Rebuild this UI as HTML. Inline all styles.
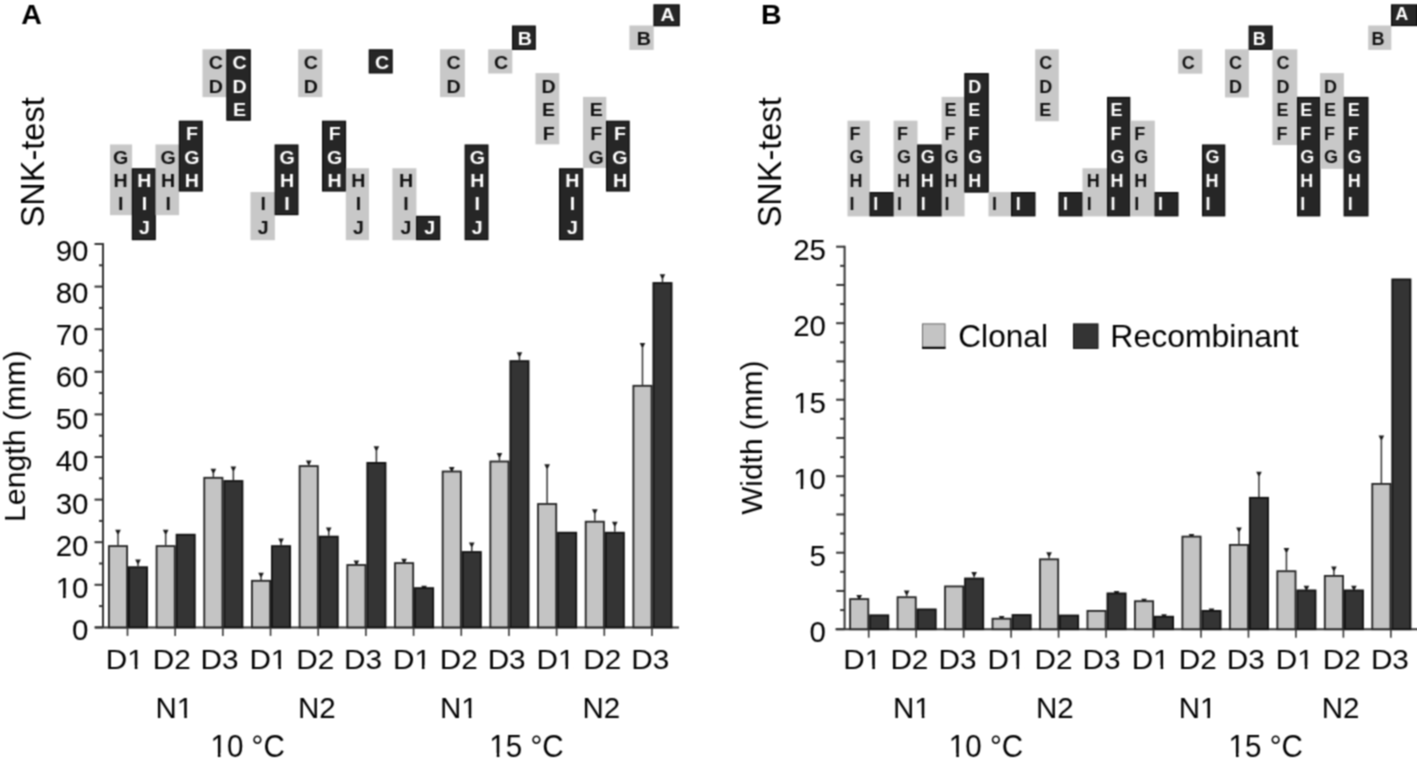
<!DOCTYPE html>
<html><head><meta charset="utf-8"><style>
html,body{margin:0;padding:0;background:#fff;}
body{width:1417px;height:775px;overflow:hidden;}
svg{display:block;font-family:"Liberation Sans", sans-serif;}
</style></head><body>
<svg width="1417" height="775" viewBox="0 0 1417 775">
<defs><filter id="soft" x="0" y="0" width="100%" height="100%" filterUnits="userSpaceOnUse" color-interpolation-filters="sRGB"><feConvolveMatrix order="3" kernelMatrix="0.05712 0.12476 0.05712 0.12476 0.27250 0.12476 0.05712 0.12476 0.05712" edgeMode="duplicate" preserveAlpha="true"/></filter></defs>
<g filter="url(#soft)">
<rect width="1417" height="775" fill="#fff"/>
<text x="21.2" y="23.5" font-size="28.5" font-weight="bold" fill="#000">A</text>
<text x="761" y="23.6" font-size="28.5" font-weight="bold" fill="#000">B</text>
<rect x="110.00" y="144.45" width="22.10" height="70.73" fill="#c8c8c8"/>
<text transform="translate(120.60,163.55) scale(1.09,1)" font-size="18" font-weight="bold" text-anchor="middle" fill="#111">G</text>
<text transform="translate(120.60,187.04) scale(1.09,1)" font-size="18" font-weight="bold" text-anchor="middle" fill="#111">H</text>
<text transform="translate(120.60,210.03) scale(1.09,1)" font-size="18" font-weight="bold" text-anchor="middle" fill="#111">I</text>
<rect x="132.40" y="168.84" width="22.80" height="70.76" fill="#262626" stroke="#080808" stroke-width="1.2"/>
<text transform="translate(144.38,187.04) scale(1.09,1)" font-size="18" font-weight="bold" text-anchor="middle" fill="#fff">H</text>
<text transform="translate(144.38,210.03) scale(1.09,1)" font-size="18" font-weight="bold" text-anchor="middle" fill="#fff">I</text>
<text transform="translate(144.38,234.42) scale(1.09,1)" font-size="18" font-weight="bold" text-anchor="middle" fill="#fff">J</text>
<rect x="155.50" y="144.45" width="23.60" height="70.73" fill="#c8c8c8"/>
<text transform="translate(168.16,163.55) scale(1.09,1)" font-size="18" font-weight="bold" text-anchor="middle" fill="#111">G</text>
<text transform="translate(168.16,187.04) scale(1.09,1)" font-size="18" font-weight="bold" text-anchor="middle" fill="#111">H</text>
<text transform="translate(168.16,210.03) scale(1.09,1)" font-size="18" font-weight="bold" text-anchor="middle" fill="#111">I</text>
<rect x="179.40" y="121.26" width="22.80" height="69.71" fill="#262626" stroke="#080808" stroke-width="1.2"/>
<text transform="translate(191.94,139.76) scale(1.09,1)" font-size="18" font-weight="bold" text-anchor="middle" fill="#fff">F</text>
<text transform="translate(191.94,163.55) scale(1.09,1)" font-size="18" font-weight="bold" text-anchor="middle" fill="#fff">G</text>
<text transform="translate(191.94,187.04) scale(1.09,1)" font-size="18" font-weight="bold" text-anchor="middle" fill="#fff">H</text>
<rect x="202.50" y="49.29" width="24.10" height="47.84" fill="#c8c8c8"/>
<text transform="translate(215.72,68.89) scale(1.09,1)" font-size="18" font-weight="bold" text-anchor="middle" fill="#111">C</text>
<text transform="translate(215.72,93.08) scale(1.09,1)" font-size="18" font-weight="bold" text-anchor="middle" fill="#111">D</text>
<rect x="226.90" y="49.89" width="23.30" height="70.25" fill="#262626" stroke="#080808" stroke-width="1.2"/>
<text transform="translate(239.50,68.89) scale(1.09,1)" font-size="18" font-weight="bold" text-anchor="middle" fill="#fff">C</text>
<text transform="translate(239.50,93.08) scale(1.09,1)" font-size="18" font-weight="bold" text-anchor="middle" fill="#fff">D</text>
<text transform="translate(239.50,116.37) scale(1.09,1)" font-size="18" font-weight="bold" text-anchor="middle" fill="#fff">E</text>
<rect x="250.50" y="192.03" width="24.40" height="48.17" fill="#c8c8c8"/>
<text transform="translate(263.28,210.03) scale(1.09,1)" font-size="18" font-weight="bold" text-anchor="middle" fill="#111">I</text>
<text transform="translate(263.28,234.42) scale(1.09,1)" font-size="18" font-weight="bold" text-anchor="middle" fill="#111">J</text>
<rect x="275.20" y="145.05" width="22.70" height="69.53" fill="#262626" stroke="#080808" stroke-width="1.2"/>
<text transform="translate(287.06,163.55) scale(1.09,1)" font-size="18" font-weight="bold" text-anchor="middle" fill="#fff">G</text>
<text transform="translate(287.06,187.04) scale(1.09,1)" font-size="18" font-weight="bold" text-anchor="middle" fill="#fff">H</text>
<text transform="translate(287.06,210.03) scale(1.09,1)" font-size="18" font-weight="bold" text-anchor="middle" fill="#fff">I</text>
<rect x="298.20" y="49.29" width="24.10" height="47.84" fill="#c8c8c8"/>
<text transform="translate(310.84,68.89) scale(1.09,1)" font-size="18" font-weight="bold" text-anchor="middle" fill="#111">C</text>
<text transform="translate(310.84,93.08) scale(1.09,1)" font-size="18" font-weight="bold" text-anchor="middle" fill="#111">D</text>
<rect x="322.60" y="121.26" width="22.90" height="69.71" fill="#262626" stroke="#080808" stroke-width="1.2"/>
<text transform="translate(334.62,139.76) scale(1.09,1)" font-size="18" font-weight="bold" text-anchor="middle" fill="#fff">F</text>
<text transform="translate(334.62,163.55) scale(1.09,1)" font-size="18" font-weight="bold" text-anchor="middle" fill="#fff">G</text>
<text transform="translate(334.62,187.04) scale(1.09,1)" font-size="18" font-weight="bold" text-anchor="middle" fill="#fff">H</text>
<rect x="345.80" y="168.24" width="23.20" height="71.96" fill="#c8c8c8"/>
<text transform="translate(358.40,187.04) scale(1.09,1)" font-size="18" font-weight="bold" text-anchor="middle" fill="#111">H</text>
<text transform="translate(358.40,210.03) scale(1.09,1)" font-size="18" font-weight="bold" text-anchor="middle" fill="#111">I</text>
<text transform="translate(358.40,234.42) scale(1.09,1)" font-size="18" font-weight="bold" text-anchor="middle" fill="#111">J</text>
<rect x="369.30" y="49.89" width="22.80" height="23.03" fill="#262626" stroke="#080808" stroke-width="1.2"/>
<text transform="translate(382.18,68.89) scale(1.09,1)" font-size="18" font-weight="bold" text-anchor="middle" fill="#fff">C</text>
<rect x="392.40" y="168.24" width="24.00" height="71.96" fill="#c8c8c8"/>
<text transform="translate(405.96,187.04) scale(1.09,1)" font-size="18" font-weight="bold" text-anchor="middle" fill="#111">H</text>
<text transform="translate(405.96,210.03) scale(1.09,1)" font-size="18" font-weight="bold" text-anchor="middle" fill="#111">I</text>
<text transform="translate(405.96,234.42) scale(1.09,1)" font-size="18" font-weight="bold" text-anchor="middle" fill="#111">J</text>
<rect x="416.70" y="216.42" width="23.00" height="23.18" fill="#262626" stroke="#080808" stroke-width="1.2"/>
<text transform="translate(429.74,234.42) scale(1.09,1)" font-size="18" font-weight="bold" text-anchor="middle" fill="#fff">J</text>
<rect x="440.00" y="49.29" width="24.90" height="47.84" fill="#c8c8c8"/>
<text transform="translate(453.52,68.89) scale(1.09,1)" font-size="18" font-weight="bold" text-anchor="middle" fill="#111">C</text>
<text transform="translate(453.52,93.08) scale(1.09,1)" font-size="18" font-weight="bold" text-anchor="middle" fill="#111">D</text>
<rect x="465.20" y="145.05" width="22.70" height="94.55" fill="#262626" stroke="#080808" stroke-width="1.2"/>
<text transform="translate(477.30,163.55) scale(1.09,1)" font-size="18" font-weight="bold" text-anchor="middle" fill="#fff">G</text>
<text transform="translate(477.30,187.04) scale(1.09,1)" font-size="18" font-weight="bold" text-anchor="middle" fill="#fff">H</text>
<text transform="translate(477.30,210.03) scale(1.09,1)" font-size="18" font-weight="bold" text-anchor="middle" fill="#fff">I</text>
<text transform="translate(477.30,234.42) scale(1.09,1)" font-size="18" font-weight="bold" text-anchor="middle" fill="#fff">J</text>
<rect x="488.20" y="49.29" width="24.10" height="24.23" fill="#c8c8c8"/>
<text transform="translate(501.08,68.89) scale(1.09,1)" font-size="18" font-weight="bold" text-anchor="middle" fill="#111">C</text>
<rect x="512.60" y="26.10" width="22.60" height="23.21" fill="#262626" stroke="#080808" stroke-width="1.2"/>
<text transform="translate(524.86,44.79) scale(1.09,1)" font-size="18" font-weight="bold" text-anchor="middle" fill="#fff">B</text>
<rect x="535.50" y="73.08" width="23.80" height="71.27" fill="#c8c8c8"/>
<text transform="translate(548.64,93.08) scale(1.09,1)" font-size="18" font-weight="bold" text-anchor="middle" fill="#111">D</text>
<text transform="translate(548.64,116.37) scale(1.09,1)" font-size="18" font-weight="bold" text-anchor="middle" fill="#111">E</text>
<text transform="translate(548.64,139.76) scale(1.09,1)" font-size="18" font-weight="bold" text-anchor="middle" fill="#111">F</text>
<rect x="559.60" y="168.84" width="23.10" height="70.76" fill="#262626" stroke="#080808" stroke-width="1.2"/>
<text transform="translate(572.42,187.04) scale(1.09,1)" font-size="18" font-weight="bold" text-anchor="middle" fill="#fff">H</text>
<text transform="translate(572.42,210.03) scale(1.09,1)" font-size="18" font-weight="bold" text-anchor="middle" fill="#fff">I</text>
<text transform="translate(572.42,234.42) scale(1.09,1)" font-size="18" font-weight="bold" text-anchor="middle" fill="#fff">J</text>
<rect x="583.00" y="96.87" width="23.30" height="71.09" fill="#c8c8c8"/>
<text transform="translate(596.20,116.37) scale(1.09,1)" font-size="18" font-weight="bold" text-anchor="middle" fill="#111">E</text>
<text transform="translate(596.20,139.76) scale(1.09,1)" font-size="18" font-weight="bold" text-anchor="middle" fill="#111">F</text>
<text transform="translate(596.20,163.55) scale(1.09,1)" font-size="18" font-weight="bold" text-anchor="middle" fill="#111">G</text>
<rect x="606.60" y="121.26" width="22.50" height="69.71" fill="#262626" stroke="#080808" stroke-width="1.2"/>
<text transform="translate(619.98,139.76) scale(1.09,1)" font-size="18" font-weight="bold" text-anchor="middle" fill="#fff">F</text>
<text transform="translate(619.98,163.55) scale(1.09,1)" font-size="18" font-weight="bold" text-anchor="middle" fill="#fff">G</text>
<text transform="translate(619.98,187.04) scale(1.09,1)" font-size="18" font-weight="bold" text-anchor="middle" fill="#fff">H</text>
<rect x="629.40" y="25.50" width="24.30" height="24.41" fill="#c8c8c8"/>
<text transform="translate(643.76,44.79) scale(1.09,1)" font-size="18" font-weight="bold" text-anchor="middle" fill="#111">B</text>
<rect x="654.00" y="4.90" width="25.20" height="20.80" fill="#262626" stroke="#080808" stroke-width="1.2"/>
<text transform="translate(667.54,20.51) scale(1.09,1)" font-size="18" font-weight="bold" text-anchor="middle" fill="#fff">A</text>
<rect x="847.50" y="120.66" width="22.30" height="95.76" fill="#c8c8c8"/>
<text transform="translate(849.60,139.56) scale(1.03,1)" font-size="17.5" font-weight="bold" fill="#111">F</text>
<text transform="translate(849.60,163.35) scale(1.03,1)" font-size="17.5" font-weight="bold" fill="#111">G</text>
<text transform="translate(849.60,186.84) scale(1.03,1)" font-size="17.5" font-weight="bold" fill="#111">H</text>
<text transform="translate(849.60,209.82) scale(1.03,1)" font-size="17.5" font-weight="bold" fill="#111">I</text>
<rect x="870.10" y="192.63" width="23.20" height="23.19" fill="#262626" stroke="#080808" stroke-width="1.2"/>
<text transform="translate(873.32,209.82) scale(1.03,1)" font-size="17.5" font-weight="bold" fill="#fff">I</text>
<rect x="893.60" y="120.66" width="23.90" height="95.76" fill="#c8c8c8"/>
<text transform="translate(897.04,139.56) scale(1.03,1)" font-size="17.5" font-weight="bold" fill="#111">F</text>
<text transform="translate(897.04,163.35) scale(1.03,1)" font-size="17.5" font-weight="bold" fill="#111">G</text>
<text transform="translate(897.04,186.84) scale(1.03,1)" font-size="17.5" font-weight="bold" fill="#111">H</text>
<text transform="translate(897.04,209.82) scale(1.03,1)" font-size="17.5" font-weight="bold" fill="#111">I</text>
<rect x="917.80" y="145.05" width="23.50" height="70.77" fill="#262626" stroke="#080808" stroke-width="1.2"/>
<text transform="translate(920.76,163.35) scale(1.03,1)" font-size="17.5" font-weight="bold" fill="#fff">G</text>
<text transform="translate(920.76,186.84) scale(1.03,1)" font-size="17.5" font-weight="bold" fill="#fff">H</text>
<text transform="translate(920.76,209.82) scale(1.03,1)" font-size="17.5" font-weight="bold" fill="#fff">I</text>
<rect x="941.60" y="96.87" width="23.00" height="119.55" fill="#c8c8c8"/>
<text transform="translate(944.48,116.17) scale(1.03,1)" font-size="17.5" font-weight="bold" fill="#111">E</text>
<text transform="translate(944.48,139.56) scale(1.03,1)" font-size="17.5" font-weight="bold" fill="#111">F</text>
<text transform="translate(944.48,163.35) scale(1.03,1)" font-size="17.5" font-weight="bold" fill="#111">G</text>
<text transform="translate(944.48,186.84) scale(1.03,1)" font-size="17.5" font-weight="bold" fill="#111">H</text>
<text transform="translate(944.48,209.82) scale(1.03,1)" font-size="17.5" font-weight="bold" fill="#111">I</text>
<rect x="964.90" y="73.68" width="23.30" height="118.35" fill="#262626" stroke="#080808" stroke-width="1.2"/>
<text transform="translate(968.20,92.88) scale(1.03,1)" font-size="17.5" font-weight="bold" fill="#fff">D</text>
<text transform="translate(968.20,116.17) scale(1.03,1)" font-size="17.5" font-weight="bold" fill="#fff">E</text>
<text transform="translate(968.20,139.56) scale(1.03,1)" font-size="17.5" font-weight="bold" fill="#fff">F</text>
<text transform="translate(968.20,163.35) scale(1.03,1)" font-size="17.5" font-weight="bold" fill="#fff">G</text>
<text transform="translate(968.20,186.84) scale(1.03,1)" font-size="17.5" font-weight="bold" fill="#fff">H</text>
<rect x="988.50" y="192.03" width="22.80" height="24.39" fill="#c8c8c8"/>
<text transform="translate(991.92,209.82) scale(1.03,1)" font-size="17.5" font-weight="bold" fill="#111">I</text>
<rect x="1011.60" y="192.63" width="23.30" height="23.19" fill="#262626" stroke="#080808" stroke-width="1.2"/>
<text transform="translate(1015.64,209.82) scale(1.03,1)" font-size="17.5" font-weight="bold" fill="#fff">I</text>
<rect x="1035.20" y="49.29" width="23.60" height="71.97" fill="#c8c8c8"/>
<text transform="translate(1039.36,68.69) scale(1.03,1)" font-size="17.5" font-weight="bold" fill="#111">C</text>
<text transform="translate(1039.36,92.88) scale(1.03,1)" font-size="17.5" font-weight="bold" fill="#111">D</text>
<text transform="translate(1039.36,116.17) scale(1.03,1)" font-size="17.5" font-weight="bold" fill="#111">E</text>
<rect x="1059.10" y="192.63" width="23.10" height="23.19" fill="#262626" stroke="#080808" stroke-width="1.2"/>
<text transform="translate(1063.08,209.82) scale(1.03,1)" font-size="17.5" font-weight="bold" fill="#fff">I</text>
<rect x="1082.50" y="168.24" width="24.80" height="48.18" fill="#c8c8c8"/>
<text transform="translate(1086.80,186.84) scale(1.03,1)" font-size="17.5" font-weight="bold" fill="#111">H</text>
<text transform="translate(1086.80,209.82) scale(1.03,1)" font-size="17.5" font-weight="bold" fill="#111">I</text>
<rect x="1107.60" y="97.47" width="22.10" height="118.35" fill="#262626" stroke="#080808" stroke-width="1.2"/>
<text transform="translate(1110.52,116.17) scale(1.03,1)" font-size="17.5" font-weight="bold" fill="#fff">E</text>
<text transform="translate(1110.52,139.56) scale(1.03,1)" font-size="17.5" font-weight="bold" fill="#fff">F</text>
<text transform="translate(1110.52,163.35) scale(1.03,1)" font-size="17.5" font-weight="bold" fill="#fff">G</text>
<text transform="translate(1110.52,186.84) scale(1.03,1)" font-size="17.5" font-weight="bold" fill="#fff">H</text>
<text transform="translate(1110.52,209.82) scale(1.03,1)" font-size="17.5" font-weight="bold" fill="#fff">I</text>
<rect x="1130.00" y="120.66" width="24.80" height="95.76" fill="#c8c8c8"/>
<text transform="translate(1134.24,139.56) scale(1.03,1)" font-size="17.5" font-weight="bold" fill="#111">F</text>
<text transform="translate(1134.24,163.35) scale(1.03,1)" font-size="17.5" font-weight="bold" fill="#111">G</text>
<text transform="translate(1134.24,186.84) scale(1.03,1)" font-size="17.5" font-weight="bold" fill="#111">H</text>
<text transform="translate(1134.24,209.82) scale(1.03,1)" font-size="17.5" font-weight="bold" fill="#111">I</text>
<rect x="1155.10" y="192.63" width="22.80" height="23.19" fill="#262626" stroke="#080808" stroke-width="1.2"/>
<text transform="translate(1157.96,209.82) scale(1.03,1)" font-size="17.5" font-weight="bold" fill="#fff">I</text>
<rect x="1178.20" y="49.29" width="24.10" height="24.39" fill="#c8c8c8"/>
<text transform="translate(1181.68,68.69) scale(1.03,1)" font-size="17.5" font-weight="bold" fill="#111">C</text>
<rect x="1202.60" y="145.05" width="22.10" height="70.77" fill="#262626" stroke="#080808" stroke-width="1.2"/>
<text transform="translate(1205.40,163.35) scale(1.03,1)" font-size="17.5" font-weight="bold" fill="#fff">G</text>
<text transform="translate(1205.40,186.84) scale(1.03,1)" font-size="17.5" font-weight="bold" fill="#fff">H</text>
<text transform="translate(1205.40,209.82) scale(1.03,1)" font-size="17.5" font-weight="bold" fill="#fff">I</text>
<rect x="1225.00" y="49.29" width="23.90" height="48.18" fill="#c8c8c8"/>
<text transform="translate(1229.12,68.69) scale(1.03,1)" font-size="17.5" font-weight="bold" fill="#111">C</text>
<text transform="translate(1229.12,92.88) scale(1.03,1)" font-size="17.5" font-weight="bold" fill="#111">D</text>
<rect x="1249.20" y="26.10" width="22.90" height="23.19" fill="#262626" stroke="#080808" stroke-width="1.2"/>
<text transform="translate(1252.84,44.59) scale(1.03,1)" font-size="17.5" font-weight="bold" fill="#fff">B</text>
<rect x="1272.40" y="49.29" width="24.90" height="95.76" fill="#c8c8c8"/>
<text transform="translate(1276.56,68.69) scale(1.03,1)" font-size="17.5" font-weight="bold" fill="#111">C</text>
<text transform="translate(1276.56,92.88) scale(1.03,1)" font-size="17.5" font-weight="bold" fill="#111">D</text>
<text transform="translate(1276.56,116.17) scale(1.03,1)" font-size="17.5" font-weight="bold" fill="#111">E</text>
<text transform="translate(1276.56,139.56) scale(1.03,1)" font-size="17.5" font-weight="bold" fill="#111">F</text>
<rect x="1297.60" y="97.47" width="22.10" height="118.35" fill="#262626" stroke="#080808" stroke-width="1.2"/>
<text transform="translate(1300.28,116.17) scale(1.03,1)" font-size="17.5" font-weight="bold" fill="#fff">E</text>
<text transform="translate(1300.28,139.56) scale(1.03,1)" font-size="17.5" font-weight="bold" fill="#fff">F</text>
<text transform="translate(1300.28,163.35) scale(1.03,1)" font-size="17.5" font-weight="bold" fill="#fff">G</text>
<text transform="translate(1300.28,186.84) scale(1.03,1)" font-size="17.5" font-weight="bold" fill="#fff">H</text>
<text transform="translate(1300.28,209.82) scale(1.03,1)" font-size="17.5" font-weight="bold" fill="#fff">I</text>
<rect x="1320.00" y="73.08" width="23.90" height="95.76" fill="#c8c8c8"/>
<text transform="translate(1324.00,92.88) scale(1.03,1)" font-size="17.5" font-weight="bold" fill="#111">D</text>
<text transform="translate(1324.00,116.17) scale(1.03,1)" font-size="17.5" font-weight="bold" fill="#111">E</text>
<text transform="translate(1324.00,139.56) scale(1.03,1)" font-size="17.5" font-weight="bold" fill="#111">F</text>
<text transform="translate(1324.00,163.35) scale(1.03,1)" font-size="17.5" font-weight="bold" fill="#111">G</text>
<rect x="1344.20" y="97.47" width="23.70" height="118.35" fill="#262626" stroke="#080808" stroke-width="1.2"/>
<text transform="translate(1347.72,116.17) scale(1.03,1)" font-size="17.5" font-weight="bold" fill="#fff">E</text>
<text transform="translate(1347.72,139.56) scale(1.03,1)" font-size="17.5" font-weight="bold" fill="#fff">F</text>
<text transform="translate(1347.72,163.35) scale(1.03,1)" font-size="17.5" font-weight="bold" fill="#fff">G</text>
<text transform="translate(1347.72,186.84) scale(1.03,1)" font-size="17.5" font-weight="bold" fill="#fff">H</text>
<text transform="translate(1347.72,209.82) scale(1.03,1)" font-size="17.5" font-weight="bold" fill="#fff">I</text>
<rect x="1368.20" y="25.50" width="23.10" height="24.39" fill="#c8c8c8"/>
<text transform="translate(1371.44,44.59) scale(1.03,1)" font-size="17.5" font-weight="bold" fill="#111">B</text>
<rect x="1391.60" y="4.90" width="25.10" height="20.60" fill="#262626" stroke="#080808" stroke-width="1.2"/>
<text transform="translate(1395.16,20.30) scale(1.03,1)" font-size="17.5" font-weight="bold" fill="#fff">A</text>
<text transform="translate(43.8,162.3) rotate(-90) scale(1.0,1)" x="0" y="0" font-size="32.5" text-anchor="middle" fill="#000">SNK-test</text>
<text transform="translate(781.0,162.3) rotate(-90) scale(1.0,1)" x="0" y="0" font-size="32.5" text-anchor="middle" fill="#000">SNK-test</text>
<text transform="translate(24.9,436.2) rotate(-90) scale(1.045,1)" x="0" y="0" font-size="29" text-anchor="middle" fill="#000">Length (mm)</text>
<text transform="translate(762.4,437.7) rotate(-90) scale(1.03,1)" x="0" y="0" font-size="29" text-anchor="middle" fill="#000">Width (mm)</text>
<line x1="103" y1="243.00" x2="103" y2="627.40" stroke="#333333" stroke-width="2"/>
<line x1="94.5" y1="627.40" x2="103" y2="627.40" stroke="#333333" stroke-width="2"/>
<g transform="translate(88.50,640.07) scale(1.0,1)"><text x="-16.41" y="0" font-size="29.5" fill="#000">0</text></g>
<line x1="94.5" y1="584.80" x2="103" y2="584.80" stroke="#333333" stroke-width="2"/>
<g transform="translate(88.50,597.92) scale(1.0,1)"><text x="-32.81" y="0" font-size="29.5" fill="#000">10</text><rect x="-31.37" y="-3.50" width="5.97" height="4.70" fill="#fff"/><rect x="-22.79" y="-3.50" width="5.74" height="4.70" fill="#fff"/></g>
<line x1="94.5" y1="542.20" x2="103" y2="542.20" stroke="#333333" stroke-width="2"/>
<g transform="translate(88.50,555.77) scale(1.0,1)"><text x="-32.81" y="0" font-size="29.5" fill="#000">20</text></g>
<line x1="94.5" y1="499.60" x2="103" y2="499.60" stroke="#333333" stroke-width="2"/>
<g transform="translate(88.50,513.62) scale(1.0,1)"><text x="-32.81" y="0" font-size="29.5" fill="#000">30</text></g>
<line x1="94.5" y1="457.00" x2="103" y2="457.00" stroke="#333333" stroke-width="2"/>
<g transform="translate(88.50,471.47) scale(1.0,1)"><text x="-32.81" y="0" font-size="29.5" fill="#000">40</text></g>
<line x1="94.5" y1="414.40" x2="103" y2="414.40" stroke="#333333" stroke-width="2"/>
<g transform="translate(88.50,429.32) scale(1.0,1)"><text x="-32.81" y="0" font-size="29.5" fill="#000">50</text></g>
<line x1="94.5" y1="371.80" x2="103" y2="371.80" stroke="#333333" stroke-width="2"/>
<g transform="translate(88.50,387.17) scale(1.0,1)"><text x="-32.81" y="0" font-size="29.5" fill="#000">60</text></g>
<line x1="94.5" y1="329.20" x2="103" y2="329.20" stroke="#333333" stroke-width="2"/>
<g transform="translate(88.50,345.02) scale(1.0,1)"><text x="-32.81" y="0" font-size="29.5" fill="#000">70</text></g>
<line x1="94.5" y1="286.60" x2="103" y2="286.60" stroke="#333333" stroke-width="2"/>
<g transform="translate(88.50,302.87) scale(1.0,1)"><text x="-32.81" y="0" font-size="29.5" fill="#000">80</text></g>
<line x1="94.5" y1="244.00" x2="103" y2="244.00" stroke="#333333" stroke-width="2"/>
<g transform="translate(88.50,260.72) scale(1.0,1)"><text x="-32.81" y="0" font-size="29.5" fill="#000">90</text></g>
<line x1="99" y1="606.10" x2="103" y2="606.10" stroke="#333333" stroke-width="2"/>
<line x1="99" y1="563.50" x2="103" y2="563.50" stroke="#333333" stroke-width="2"/>
<line x1="99" y1="520.90" x2="103" y2="520.90" stroke="#333333" stroke-width="2"/>
<line x1="99" y1="478.30" x2="103" y2="478.30" stroke="#333333" stroke-width="2"/>
<line x1="99" y1="435.70" x2="103" y2="435.70" stroke="#333333" stroke-width="2"/>
<line x1="99" y1="393.10" x2="103" y2="393.10" stroke="#333333" stroke-width="2"/>
<line x1="99" y1="350.50" x2="103" y2="350.50" stroke="#333333" stroke-width="2"/>
<line x1="99" y1="307.90" x2="103" y2="307.90" stroke="#333333" stroke-width="2"/>
<line x1="99" y1="265.30" x2="103" y2="265.30" stroke="#333333" stroke-width="2"/>
<line x1="95" y1="627.40" x2="679" y2="627.40" stroke="#333333" stroke-width="2"/>
<line x1="844.6" y1="245.70" x2="844.6" y2="629.20" stroke="#333333" stroke-width="2"/>
<line x1="836.1" y1="629.20" x2="844.6" y2="629.20" stroke="#333333" stroke-width="2"/>
<g transform="translate(826.00,642.32) scale(1.0,1)"><text x="-16.41" y="0" font-size="29.5" fill="#000">0</text></g>
<line x1="836.1" y1="552.70" x2="844.6" y2="552.70" stroke="#333333" stroke-width="2"/>
<g transform="translate(826.00,565.82) scale(1.0,1)"><text x="-16.41" y="0" font-size="29.5" fill="#000">5</text></g>
<line x1="836.1" y1="476.20" x2="844.6" y2="476.20" stroke="#333333" stroke-width="2"/>
<g transform="translate(826.00,489.32) scale(1.0,1)"><text x="-32.81" y="0" font-size="29.5" fill="#000">10</text><rect x="-31.37" y="-3.50" width="5.97" height="4.70" fill="#fff"/><rect x="-22.79" y="-3.50" width="5.74" height="4.70" fill="#fff"/></g>
<line x1="836.1" y1="399.70" x2="844.6" y2="399.70" stroke="#333333" stroke-width="2"/>
<g transform="translate(826.00,412.82) scale(1.0,1)"><text x="-32.81" y="0" font-size="29.5" fill="#000">15</text><rect x="-31.37" y="-3.50" width="5.97" height="4.70" fill="#fff"/><rect x="-22.79" y="-3.50" width="5.74" height="4.70" fill="#fff"/></g>
<line x1="836.1" y1="323.20" x2="844.6" y2="323.20" stroke="#333333" stroke-width="2"/>
<g transform="translate(826.00,336.32) scale(1.0,1)"><text x="-32.81" y="0" font-size="29.5" fill="#000">20</text></g>
<line x1="836.1" y1="246.70" x2="844.6" y2="246.70" stroke="#333333" stroke-width="2"/>
<g transform="translate(826.00,259.82) scale(1.0,1)"><text x="-32.81" y="0" font-size="29.5" fill="#000">25</text></g>
<line x1="836.3000000000001" y1="590.95" x2="844.6" y2="590.95" stroke="#333333" stroke-width="2"/>
<line x1="836.3000000000001" y1="514.45" x2="844.6" y2="514.45" stroke="#333333" stroke-width="2"/>
<line x1="836.3000000000001" y1="437.95" x2="844.6" y2="437.95" stroke="#333333" stroke-width="2"/>
<line x1="836.3000000000001" y1="361.45" x2="844.6" y2="361.45" stroke="#333333" stroke-width="2"/>
<line x1="836.3000000000001" y1="284.95" x2="844.6" y2="284.95" stroke="#333333" stroke-width="2"/>
<line x1="840.1" y1="610.08" x2="844.6" y2="610.08" stroke="#333333" stroke-width="2"/>
<line x1="840.1" y1="571.83" x2="844.6" y2="571.83" stroke="#333333" stroke-width="2"/>
<line x1="840.1" y1="533.58" x2="844.6" y2="533.58" stroke="#333333" stroke-width="2"/>
<line x1="840.1" y1="495.33" x2="844.6" y2="495.33" stroke="#333333" stroke-width="2"/>
<line x1="840.1" y1="457.08" x2="844.6" y2="457.08" stroke="#333333" stroke-width="2"/>
<line x1="840.1" y1="418.83" x2="844.6" y2="418.83" stroke="#333333" stroke-width="2"/>
<line x1="840.1" y1="380.58" x2="844.6" y2="380.58" stroke="#333333" stroke-width="2"/>
<line x1="840.1" y1="342.33" x2="844.6" y2="342.33" stroke="#333333" stroke-width="2"/>
<line x1="840.1" y1="304.08" x2="844.6" y2="304.08" stroke="#333333" stroke-width="2"/>
<line x1="840.1" y1="265.83" x2="844.6" y2="265.83" stroke="#333333" stroke-width="2"/>
<line x1="835.5" y1="629.20" x2="1417" y2="629.20" stroke="#333333" stroke-width="2"/>
<line x1="118.00" y1="545.20" x2="118.00" y2="530.70" stroke="#333" stroke-width="1.5"/>
<path d="M115.20,529.70H120.80L118.80,533.70H117.20Z" fill="#1a1a1a"/>
<line x1="138.00" y1="566.30" x2="138.00" y2="560.50" stroke="#333" stroke-width="1.5"/>
<path d="M135.20,559.50H140.80L138.80,563.50H137.20Z" fill="#1a1a1a"/>
<rect x="108.90" y="546.10" width="18.20" height="81.30" fill="#c4c4c4" stroke="#222" stroke-width="1.8"/>
<rect x="128.90" y="567.20" width="18.20" height="60.20" fill="#343434" stroke="#111" stroke-width="1.8"/>
<line x1="127.50" y1="627.40" x2="127.50" y2="635.90" stroke="#333333" stroke-width="1.6"/>
<line x1="165.68" y1="545.20" x2="165.68" y2="530.70" stroke="#333" stroke-width="1.5"/>
<path d="M162.88,529.70H168.48L166.48,533.70H164.88Z" fill="#1a1a1a"/>
<rect x="156.58" y="546.10" width="18.20" height="81.30" fill="#c4c4c4" stroke="#222" stroke-width="1.8"/>
<rect x="176.58" y="534.70" width="18.20" height="92.70" fill="#343434" stroke="#111" stroke-width="1.8"/>
<line x1="175.18" y1="627.40" x2="175.18" y2="635.90" stroke="#333333" stroke-width="1.6"/>
<line x1="213.36" y1="476.90" x2="213.36" y2="469.80" stroke="#333" stroke-width="1.5"/>
<path d="M210.56,468.80H216.16L214.16,472.80H212.56Z" fill="#1a1a1a"/>
<line x1="233.36" y1="480.10" x2="233.36" y2="467.60" stroke="#333" stroke-width="1.5"/>
<path d="M230.56,466.60H236.16L234.16,470.60H232.56Z" fill="#1a1a1a"/>
<rect x="204.26" y="477.80" width="18.20" height="149.60" fill="#c4c4c4" stroke="#222" stroke-width="1.8"/>
<rect x="224.26" y="481.00" width="18.20" height="146.40" fill="#343434" stroke="#111" stroke-width="1.8"/>
<line x1="222.86" y1="627.40" x2="222.86" y2="635.90" stroke="#333333" stroke-width="1.6"/>
<line x1="261.04" y1="579.90" x2="261.04" y2="573.80" stroke="#333" stroke-width="1.5"/>
<path d="M258.24,572.80H263.84L261.84,576.80H260.24Z" fill="#1a1a1a"/>
<line x1="281.04" y1="545.20" x2="281.04" y2="539.40" stroke="#333" stroke-width="1.5"/>
<path d="M278.24,538.40H283.84L281.84,542.40H280.24Z" fill="#1a1a1a"/>
<rect x="251.94" y="580.80" width="18.20" height="46.60" fill="#c4c4c4" stroke="#222" stroke-width="1.8"/>
<rect x="271.94" y="546.10" width="18.20" height="81.30" fill="#343434" stroke="#111" stroke-width="1.8"/>
<line x1="270.54" y1="627.40" x2="270.54" y2="635.90" stroke="#333333" stroke-width="1.6"/>
<line x1="308.72" y1="465.20" x2="308.72" y2="461.60" stroke="#333" stroke-width="1.5"/>
<path d="M305.92,460.60H311.52L309.52,464.60H307.92Z" fill="#1a1a1a"/>
<line x1="328.72" y1="535.70" x2="328.72" y2="528.60" stroke="#333" stroke-width="1.5"/>
<path d="M325.92,527.60H331.52L329.52,531.60H327.92Z" fill="#1a1a1a"/>
<rect x="299.62" y="466.10" width="18.20" height="161.30" fill="#c4c4c4" stroke="#222" stroke-width="1.8"/>
<rect x="319.62" y="536.60" width="18.20" height="90.80" fill="#343434" stroke="#111" stroke-width="1.8"/>
<line x1="318.22" y1="627.40" x2="318.22" y2="635.90" stroke="#333333" stroke-width="1.6"/>
<line x1="356.40" y1="564.10" x2="356.40" y2="561.60" stroke="#333" stroke-width="1.5"/>
<path d="M353.60,560.60H359.20L357.20,564.60H355.60Z" fill="#1a1a1a"/>
<line x1="376.40" y1="462.00" x2="376.40" y2="447.30" stroke="#333" stroke-width="1.5"/>
<path d="M373.60,446.30H379.20L377.20,450.30H375.60Z" fill="#1a1a1a"/>
<rect x="347.30" y="565.00" width="18.20" height="62.40" fill="#c4c4c4" stroke="#222" stroke-width="1.8"/>
<rect x="367.30" y="462.90" width="18.20" height="164.50" fill="#343434" stroke="#111" stroke-width="1.8"/>
<line x1="365.90" y1="627.40" x2="365.90" y2="635.90" stroke="#333333" stroke-width="1.6"/>
<line x1="404.08" y1="562.20" x2="404.08" y2="559.70" stroke="#333" stroke-width="1.5"/>
<path d="M401.28,558.70H406.88L404.88,562.70H403.28Z" fill="#1a1a1a"/>
<line x1="424.08" y1="587.20" x2="424.08" y2="586.80" stroke="#333" stroke-width="1.5"/>
<path d="M421.28,585.80H426.88L424.88,589.80H423.28Z" fill="#1a1a1a"/>
<rect x="394.98" y="563.10" width="18.20" height="64.30" fill="#c4c4c4" stroke="#222" stroke-width="1.8"/>
<rect x="414.98" y="588.10" width="18.20" height="39.30" fill="#343434" stroke="#111" stroke-width="1.8"/>
<line x1="413.58" y1="627.40" x2="413.58" y2="635.90" stroke="#333333" stroke-width="1.6"/>
<line x1="451.76" y1="470.60" x2="451.76" y2="468.10" stroke="#333" stroke-width="1.5"/>
<path d="M448.96,467.10H454.56L452.56,471.10H450.96Z" fill="#1a1a1a"/>
<line x1="471.76" y1="551.10" x2="471.76" y2="543.50" stroke="#333" stroke-width="1.5"/>
<path d="M468.96,542.50H474.56L472.56,546.50H470.96Z" fill="#1a1a1a"/>
<rect x="442.66" y="471.50" width="18.20" height="155.90" fill="#c4c4c4" stroke="#222" stroke-width="1.8"/>
<rect x="462.66" y="552.00" width="18.20" height="75.40" fill="#343434" stroke="#111" stroke-width="1.8"/>
<line x1="461.26" y1="627.40" x2="461.26" y2="635.90" stroke="#333333" stroke-width="1.6"/>
<line x1="499.44" y1="460.60" x2="499.44" y2="454.00" stroke="#333" stroke-width="1.5"/>
<path d="M496.64,453.00H502.24L500.24,457.00H498.64Z" fill="#1a1a1a"/>
<line x1="519.44" y1="360.20" x2="519.44" y2="353.20" stroke="#333" stroke-width="1.5"/>
<path d="M516.64,352.20H522.24L520.24,356.20H518.64Z" fill="#1a1a1a"/>
<rect x="490.34" y="461.50" width="18.20" height="165.90" fill="#c4c4c4" stroke="#222" stroke-width="1.8"/>
<rect x="510.34" y="361.10" width="18.20" height="266.30" fill="#343434" stroke="#111" stroke-width="1.8"/>
<line x1="508.94" y1="627.40" x2="508.94" y2="635.90" stroke="#333333" stroke-width="1.6"/>
<line x1="547.12" y1="503.10" x2="547.12" y2="465.30" stroke="#333" stroke-width="1.5"/>
<path d="M544.32,464.30H549.92L547.92,468.30H546.32Z" fill="#1a1a1a"/>
<rect x="538.02" y="504.00" width="18.20" height="123.40" fill="#c4c4c4" stroke="#222" stroke-width="1.8"/>
<rect x="558.02" y="532.70" width="18.20" height="94.70" fill="#343434" stroke="#111" stroke-width="1.8"/>
<line x1="556.62" y1="627.40" x2="556.62" y2="635.90" stroke="#333333" stroke-width="1.6"/>
<line x1="594.80" y1="520.80" x2="594.80" y2="510.20" stroke="#333" stroke-width="1.5"/>
<path d="M592.00,509.20H597.60L595.60,513.20H594.00Z" fill="#1a1a1a"/>
<line x1="614.80" y1="531.80" x2="614.80" y2="522.80" stroke="#333" stroke-width="1.5"/>
<path d="M612.00,521.80H617.60L615.60,525.80H614.00Z" fill="#1a1a1a"/>
<rect x="585.70" y="521.70" width="18.20" height="105.70" fill="#c4c4c4" stroke="#222" stroke-width="1.8"/>
<rect x="605.70" y="532.70" width="18.20" height="94.70" fill="#343434" stroke="#111" stroke-width="1.8"/>
<line x1="604.30" y1="627.40" x2="604.30" y2="635.90" stroke="#333333" stroke-width="1.6"/>
<line x1="642.48" y1="384.90" x2="642.48" y2="343.90" stroke="#333" stroke-width="1.5"/>
<path d="M639.68,342.90H645.28L643.28,346.90H641.68Z" fill="#1a1a1a"/>
<line x1="662.48" y1="282.10" x2="662.48" y2="275.20" stroke="#333" stroke-width="1.5"/>
<path d="M659.68,274.20H665.28L663.28,278.20H661.68Z" fill="#1a1a1a"/>
<rect x="633.38" y="385.80" width="18.20" height="241.60" fill="#c4c4c4" stroke="#222" stroke-width="1.8"/>
<rect x="653.38" y="283.00" width="18.20" height="344.40" fill="#343434" stroke="#111" stroke-width="1.8"/>
<line x1="651.98" y1="627.40" x2="651.98" y2="635.90" stroke="#333333" stroke-width="1.6"/>
<line x1="859.20" y1="598.20" x2="859.20" y2="596.10" stroke="#333" stroke-width="1.5"/>
<path d="M856.40,595.10H862.00L860.00,599.10H858.40Z" fill="#1a1a1a"/>
<rect x="850.10" y="599.10" width="18.20" height="30.10" fill="#c4c4c4" stroke="#222" stroke-width="1.8"/>
<rect x="870.10" y="615.30" width="18.20" height="13.90" fill="#343434" stroke="#111" stroke-width="1.8"/>
<line x1="868.70" y1="629.20" x2="868.70" y2="637.70" stroke="#333333" stroke-width="1.6"/>
<line x1="906.67" y1="596.30" x2="906.67" y2="591.40" stroke="#333" stroke-width="1.5"/>
<path d="M903.87,590.40H909.47L907.47,594.40H905.87Z" fill="#1a1a1a"/>
<rect x="897.57" y="597.20" width="18.20" height="32.00" fill="#c4c4c4" stroke="#222" stroke-width="1.8"/>
<rect x="917.57" y="609.40" width="18.20" height="19.80" fill="#343434" stroke="#111" stroke-width="1.8"/>
<line x1="916.17" y1="629.20" x2="916.17" y2="637.70" stroke="#333333" stroke-width="1.6"/>
<line x1="974.14" y1="577.60" x2="974.14" y2="572.90" stroke="#333" stroke-width="1.5"/>
<path d="M971.34,571.90H976.94L974.94,575.90H973.34Z" fill="#1a1a1a"/>
<rect x="945.04" y="586.40" width="18.20" height="42.80" fill="#c4c4c4" stroke="#222" stroke-width="1.8"/>
<rect x="965.04" y="578.50" width="18.20" height="50.70" fill="#343434" stroke="#111" stroke-width="1.8"/>
<line x1="963.64" y1="629.20" x2="963.64" y2="637.70" stroke="#333333" stroke-width="1.6"/>
<line x1="1001.61" y1="617.80" x2="1001.61" y2="617.00" stroke="#333" stroke-width="1.5"/>
<path d="M998.81,616.00H1004.41L1002.41,620.00H1000.81Z" fill="#1a1a1a"/>
<rect x="992.51" y="618.70" width="18.20" height="10.50" fill="#c4c4c4" stroke="#222" stroke-width="1.8"/>
<rect x="1012.51" y="615.00" width="18.20" height="14.20" fill="#343434" stroke="#111" stroke-width="1.8"/>
<line x1="1011.11" y1="629.20" x2="1011.11" y2="637.70" stroke="#333333" stroke-width="1.6"/>
<line x1="1049.08" y1="558.40" x2="1049.08" y2="553.20" stroke="#333" stroke-width="1.5"/>
<path d="M1046.28,552.20H1051.88L1049.88,556.20H1048.28Z" fill="#1a1a1a"/>
<rect x="1039.98" y="559.30" width="18.20" height="69.90" fill="#c4c4c4" stroke="#222" stroke-width="1.8"/>
<rect x="1059.98" y="615.50" width="18.20" height="13.70" fill="#343434" stroke="#111" stroke-width="1.8"/>
<line x1="1058.58" y1="629.20" x2="1058.58" y2="637.70" stroke="#333333" stroke-width="1.6"/>
<line x1="1116.55" y1="592.50" x2="1116.55" y2="592.00" stroke="#333" stroke-width="1.5"/>
<path d="M1113.75,591.00H1119.35L1117.35,595.00H1115.75Z" fill="#1a1a1a"/>
<rect x="1087.45" y="610.90" width="18.20" height="18.30" fill="#c4c4c4" stroke="#222" stroke-width="1.8"/>
<rect x="1107.45" y="593.40" width="18.20" height="35.80" fill="#343434" stroke="#111" stroke-width="1.8"/>
<line x1="1106.05" y1="629.20" x2="1106.05" y2="637.70" stroke="#333333" stroke-width="1.6"/>
<line x1="1144.02" y1="600.30" x2="1144.02" y2="599.70" stroke="#333" stroke-width="1.5"/>
<path d="M1141.22,598.70H1146.82L1144.82,602.70H1143.22Z" fill="#1a1a1a"/>
<line x1="1164.02" y1="615.80" x2="1164.02" y2="615.20" stroke="#333" stroke-width="1.5"/>
<path d="M1161.22,614.20H1166.82L1164.82,618.20H1163.22Z" fill="#1a1a1a"/>
<rect x="1134.92" y="601.20" width="18.20" height="28.00" fill="#c4c4c4" stroke="#222" stroke-width="1.8"/>
<rect x="1154.92" y="616.70" width="18.20" height="12.50" fill="#343434" stroke="#111" stroke-width="1.8"/>
<line x1="1153.52" y1="629.20" x2="1153.52" y2="637.70" stroke="#333333" stroke-width="1.6"/>
<line x1="1191.49" y1="535.70" x2="1191.49" y2="535.10" stroke="#333" stroke-width="1.5"/>
<path d="M1188.69,534.10H1194.29L1192.29,538.10H1190.69Z" fill="#1a1a1a"/>
<line x1="1211.49" y1="610.00" x2="1211.49" y2="609.40" stroke="#333" stroke-width="1.5"/>
<path d="M1208.69,608.40H1214.29L1212.29,612.40H1210.69Z" fill="#1a1a1a"/>
<rect x="1182.39" y="536.60" width="18.20" height="92.60" fill="#c4c4c4" stroke="#222" stroke-width="1.8"/>
<rect x="1202.39" y="610.90" width="18.20" height="18.30" fill="#343434" stroke="#111" stroke-width="1.8"/>
<line x1="1200.99" y1="629.20" x2="1200.99" y2="637.70" stroke="#333333" stroke-width="1.6"/>
<line x1="1238.96" y1="544.00" x2="1238.96" y2="528.60" stroke="#333" stroke-width="1.5"/>
<path d="M1236.16,527.60H1241.76L1239.76,531.60H1238.16Z" fill="#1a1a1a"/>
<line x1="1258.96" y1="496.90" x2="1258.96" y2="472.80" stroke="#333" stroke-width="1.5"/>
<path d="M1256.16,471.80H1261.76L1259.76,475.80H1258.16Z" fill="#1a1a1a"/>
<rect x="1229.86" y="544.90" width="18.20" height="84.30" fill="#c4c4c4" stroke="#222" stroke-width="1.8"/>
<rect x="1249.86" y="497.80" width="18.20" height="131.40" fill="#343434" stroke="#111" stroke-width="1.8"/>
<line x1="1248.46" y1="629.20" x2="1248.46" y2="637.70" stroke="#333333" stroke-width="1.6"/>
<line x1="1286.43" y1="570.30" x2="1286.43" y2="549.00" stroke="#333" stroke-width="1.5"/>
<path d="M1283.63,548.00H1289.23L1287.23,552.00H1285.63Z" fill="#1a1a1a"/>
<line x1="1306.43" y1="589.50" x2="1306.43" y2="586.80" stroke="#333" stroke-width="1.5"/>
<path d="M1303.63,585.80H1309.23L1307.23,589.80H1305.63Z" fill="#1a1a1a"/>
<rect x="1277.33" y="571.20" width="18.20" height="58.00" fill="#c4c4c4" stroke="#222" stroke-width="1.8"/>
<rect x="1297.33" y="590.40" width="18.20" height="38.80" fill="#343434" stroke="#111" stroke-width="1.8"/>
<line x1="1295.93" y1="629.20" x2="1295.93" y2="637.70" stroke="#333333" stroke-width="1.6"/>
<line x1="1333.90" y1="575.00" x2="1333.90" y2="567.60" stroke="#333" stroke-width="1.5"/>
<path d="M1331.10,566.60H1336.70L1334.70,570.60H1333.10Z" fill="#1a1a1a"/>
<line x1="1353.90" y1="589.50" x2="1353.90" y2="586.80" stroke="#333" stroke-width="1.5"/>
<path d="M1351.10,585.80H1356.70L1354.70,589.80H1353.10Z" fill="#1a1a1a"/>
<rect x="1324.80" y="575.90" width="18.20" height="53.30" fill="#c4c4c4" stroke="#222" stroke-width="1.8"/>
<rect x="1344.80" y="590.40" width="18.20" height="38.80" fill="#343434" stroke="#111" stroke-width="1.8"/>
<line x1="1343.40" y1="629.20" x2="1343.40" y2="637.70" stroke="#333333" stroke-width="1.6"/>
<line x1="1381.37" y1="483.00" x2="1381.37" y2="436.60" stroke="#333" stroke-width="1.5"/>
<path d="M1378.57,435.60H1384.17L1382.17,439.60H1380.57Z" fill="#1a1a1a"/>
<rect x="1372.27" y="483.90" width="18.20" height="145.30" fill="#c4c4c4" stroke="#222" stroke-width="1.8"/>
<rect x="1392.27" y="279.40" width="18.20" height="349.80" fill="#343434" stroke="#111" stroke-width="1.8"/>
<line x1="1390.87" y1="629.20" x2="1390.87" y2="637.70" stroke="#333333" stroke-width="1.6"/>
<g transform="translate(124.85,668.80) scale(1.05,1)"><text x="-18.09" y="0" font-size="28.3" fill="#000">D1</text><rect x="3.70" y="-3.41" width="5.76" height="4.61" fill="#fff"/><rect x="11.97" y="-3.41" width="5.54" height="4.61" fill="#fff"/></g>
<g transform="translate(171.70,668.80) scale(1.05,1)"><text x="-18.09" y="0" font-size="28.3" fill="#000">D2</text></g>
<g transform="translate(219.55,668.80) scale(1.05,1)"><text x="-18.09" y="0" font-size="28.3" fill="#000">D3</text></g>
<g transform="translate(268.40,668.80) scale(1.05,1)"><text x="-18.09" y="0" font-size="28.3" fill="#000">D1</text><rect x="3.70" y="-3.41" width="5.76" height="4.61" fill="#fff"/><rect x="11.97" y="-3.41" width="5.54" height="4.61" fill="#fff"/></g>
<g transform="translate(315.25,668.80) scale(1.05,1)"><text x="-18.09" y="0" font-size="28.3" fill="#000">D2</text></g>
<g transform="translate(363.10,668.80) scale(1.05,1)"><text x="-18.09" y="0" font-size="28.3" fill="#000">D3</text></g>
<g transform="translate(411.95,668.80) scale(1.05,1)"><text x="-18.09" y="0" font-size="28.3" fill="#000">D1</text><rect x="3.70" y="-3.41" width="5.76" height="4.61" fill="#fff"/><rect x="11.97" y="-3.41" width="5.54" height="4.61" fill="#fff"/></g>
<g transform="translate(458.80,668.80) scale(1.05,1)"><text x="-18.09" y="0" font-size="28.3" fill="#000">D2</text></g>
<g transform="translate(506.65,668.80) scale(1.05,1)"><text x="-18.09" y="0" font-size="28.3" fill="#000">D3</text></g>
<g transform="translate(555.50,668.80) scale(1.05,1)"><text x="-18.09" y="0" font-size="28.3" fill="#000">D1</text><rect x="3.70" y="-3.41" width="5.76" height="4.61" fill="#fff"/><rect x="11.97" y="-3.41" width="5.54" height="4.61" fill="#fff"/></g>
<g transform="translate(602.35,668.80) scale(1.05,1)"><text x="-18.09" y="0" font-size="28.3" fill="#000">D2</text></g>
<g transform="translate(650.20,668.80) scale(1.05,1)"><text x="-18.09" y="0" font-size="28.3" fill="#000">D3</text></g>
<g transform="translate(174.40,718.30) scale(1.0,1)"><text x="-18.86" y="0" font-size="29.5" fill="#000">N1</text><rect x="3.90" y="-3.50" width="5.97" height="4.70" fill="#fff"/><rect x="12.47" y="-3.50" width="5.74" height="4.70" fill="#fff"/></g>
<g transform="translate(316.90,718.30) scale(1.0,1)"><text x="-18.86" y="0" font-size="29.5" fill="#000">N2</text></g>
<g transform="translate(458.90,718.30) scale(1.0,1)"><text x="-18.86" y="0" font-size="29.5" fill="#000">N1</text><rect x="3.90" y="-3.50" width="5.97" height="4.70" fill="#fff"/><rect x="12.47" y="-3.50" width="5.74" height="4.70" fill="#fff"/></g>
<g transform="translate(601.30,718.30) scale(1.0,1)"><text x="-18.86" y="0" font-size="29.5" fill="#000">N2</text></g>
<g transform="translate(247.60,756.60) scale(0.97,1)"><text x="-38.31" y="0" font-size="30.5" fill="#000">10 °C</text><rect x="-36.79" y="-3.58" width="6.15" height="4.78" fill="#fff"/><rect x="-27.95" y="-3.58" width="5.91" height="4.78" fill="#fff"/></g>
<g transform="translate(526.50,756.60) scale(0.97,1)"><text x="-38.31" y="0" font-size="30.5" fill="#000">15 °C</text><rect x="-36.79" y="-3.58" width="6.15" height="4.78" fill="#fff"/><rect x="-27.95" y="-3.58" width="5.91" height="4.78" fill="#fff"/></g>
<g transform="translate(862.35,668.80) scale(1.05,1)"><text x="-18.09" y="0" font-size="28.3" fill="#000">D1</text><rect x="3.70" y="-3.41" width="5.76" height="4.61" fill="#fff"/><rect x="11.97" y="-3.41" width="5.54" height="4.61" fill="#fff"/></g>
<g transform="translate(909.40,668.80) scale(1.05,1)"><text x="-18.09" y="0" font-size="28.3" fill="#000">D2</text></g>
<g transform="translate(957.45,668.80) scale(1.05,1)"><text x="-18.09" y="0" font-size="28.3" fill="#000">D3</text></g>
<g transform="translate(1006.50,668.80) scale(1.05,1)"><text x="-18.09" y="0" font-size="28.3" fill="#000">D1</text><rect x="3.70" y="-3.41" width="5.76" height="4.61" fill="#fff"/><rect x="11.97" y="-3.41" width="5.54" height="4.61" fill="#fff"/></g>
<g transform="translate(1053.55,668.80) scale(1.05,1)"><text x="-18.09" y="0" font-size="28.3" fill="#000">D2</text></g>
<g transform="translate(1101.60,668.80) scale(1.05,1)"><text x="-18.09" y="0" font-size="28.3" fill="#000">D3</text></g>
<g transform="translate(1150.65,668.80) scale(1.05,1)"><text x="-18.09" y="0" font-size="28.3" fill="#000">D1</text><rect x="3.70" y="-3.41" width="5.76" height="4.61" fill="#fff"/><rect x="11.97" y="-3.41" width="5.54" height="4.61" fill="#fff"/></g>
<g transform="translate(1197.70,668.80) scale(1.05,1)"><text x="-18.09" y="0" font-size="28.3" fill="#000">D2</text></g>
<g transform="translate(1245.75,668.80) scale(1.05,1)"><text x="-18.09" y="0" font-size="28.3" fill="#000">D3</text></g>
<g transform="translate(1294.80,668.80) scale(1.05,1)"><text x="-18.09" y="0" font-size="28.3" fill="#000">D1</text><rect x="3.70" y="-3.41" width="5.76" height="4.61" fill="#fff"/><rect x="11.97" y="-3.41" width="5.54" height="4.61" fill="#fff"/></g>
<g transform="translate(1341.85,668.80) scale(1.05,1)"><text x="-18.09" y="0" font-size="28.3" fill="#000">D2</text></g>
<g transform="translate(1389.90,668.80) scale(1.05,1)"><text x="-18.09" y="0" font-size="28.3" fill="#000">D3</text></g>
<g transform="translate(911.90,718.30) scale(1.0,1)"><text x="-18.86" y="0" font-size="29.5" fill="#000">N1</text><rect x="3.90" y="-3.50" width="5.97" height="4.70" fill="#fff"/><rect x="12.47" y="-3.50" width="5.74" height="4.70" fill="#fff"/></g>
<g transform="translate(1054.80,718.30) scale(1.0,1)"><text x="-18.86" y="0" font-size="29.5" fill="#000">N2</text></g>
<g transform="translate(1197.50,718.30) scale(1.0,1)"><text x="-18.86" y="0" font-size="29.5" fill="#000">N1</text><rect x="3.90" y="-3.50" width="5.97" height="4.70" fill="#fff"/><rect x="12.47" y="-3.50" width="5.74" height="4.70" fill="#fff"/></g>
<g transform="translate(1340.60,718.30) scale(1.0,1)"><text x="-18.86" y="0" font-size="29.5" fill="#000">N2</text></g>
<g transform="translate(986.00,756.60) scale(0.97,1)"><text x="-38.31" y="0" font-size="30.5" fill="#000">10 °C</text><rect x="-36.79" y="-3.58" width="6.15" height="4.78" fill="#fff"/><rect x="-27.95" y="-3.58" width="5.91" height="4.78" fill="#fff"/></g>
<g transform="translate(1265.70,756.60) scale(0.97,1)"><text x="-38.31" y="0" font-size="30.5" fill="#000">15 °C</text><rect x="-36.79" y="-3.58" width="6.15" height="4.78" fill="#fff"/><rect x="-27.95" y="-3.58" width="5.91" height="4.78" fill="#fff"/></g>
<rect x="922.5" y="323.9" width="22.5" height="24.5" fill="#c4c4c4" stroke="#666" stroke-width="1"/>
<line x1="922" y1="347.8" x2="945.5" y2="347.8" stroke="#000" stroke-width="2"/>
<text transform="translate(958.3,347) scale(1.02,1)" font-size="31" fill="#000">Clonal</text>
<rect x="1073.5" y="323.9" width="24.5" height="24.5" fill="#343434" stroke="#111" stroke-width="1"/>
<text transform="translate(1110.3,347) scale(1.032,1)" font-size="31" fill="#000">Recombinant</text>
</g>
</svg>
</body></html>
